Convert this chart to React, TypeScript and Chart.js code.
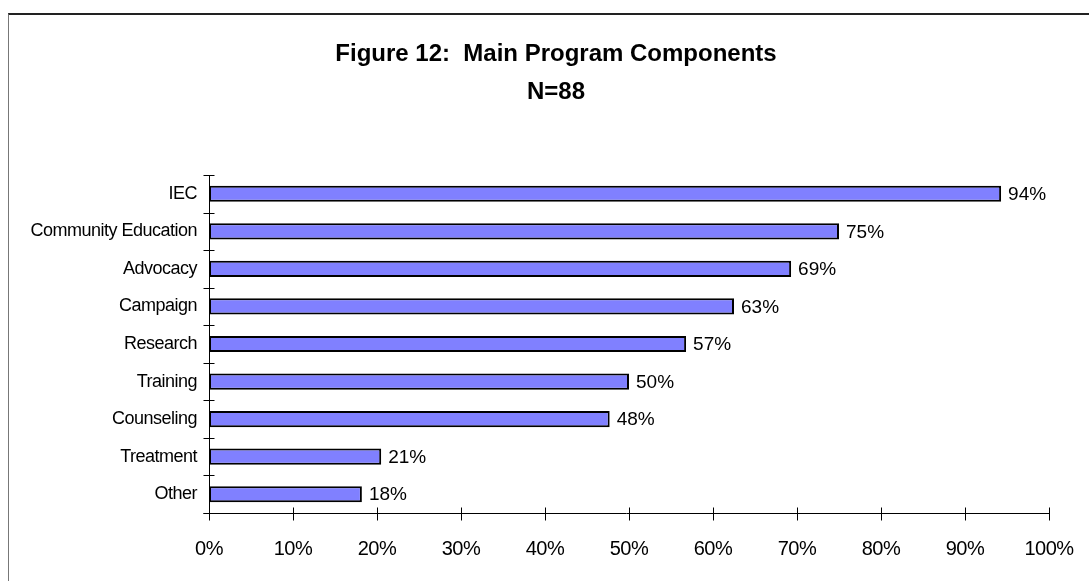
import React, { useEffect, useRef } from "react";
import { Chart, registerables } from "chart.js";

Chart.register(...registerables);

const categories = [
  "IEC",
  "Community Education",
  "Advocacy",
  "Campaign",
  "Research",
  "Training",
  "Counseling",
  "Treatment",
  "Other",
];
const values = [94.3, 75.0, 69.3, 62.5, 56.8, 50.0, 47.7, 20.5, 18.2];
const valueLabels = ["94%", "75%", "69%", "63%", "57%", "50%", "48%", "21%", "18%"];
const titleLines = ["Figure 12:  Main Program Components", "N=88"];
const xTickMax = 100;
const xTickStep = 10;

const FONT = "'Liberation Sans', Arial, Helvetica, sans-serif";

const spacingPlugin = {
  id: "spacing",
  beforeDraw(chart: any) {
    try {
      (chart.ctx as any).letterSpacing = "-0.5px";
    } catch (e) {}
  },
  beforeDatasetsDraw(chart: any) {
    try {
      (chart.ctx as any).letterSpacing = "0px";
    } catch (e) {}
  },
};

const titlePlugin = {
  id: "customTitle",
  afterDraw(chart: any) {
    const { ctx } = chart;
    ctx.save();
    ctx.fillStyle = "#000";
    ctx.font = `bold 24px ${FONT}`;
    ctx.textAlign = "center";
    ctx.textBaseline = "middle";
    ctx.fillText(titleLines[0], 556, 54);
    ctx.fillText(titleLines[1], 556, 92);
    ctx.restore();
  },
};

const axisPlugin = {
  id: "crossTicks",
  afterDraw(chart: any) {
    const { ctx, chartArea } = chart;
    const xs = chart.scales.x;
    const ys = chart.scales.y;
    ctx.save();
    ctx.strokeStyle = "#000";
    ctx.lineWidth = 1;
    ctx.beginPath();
    const lx = Math.round(chartArea.left) + 0.5;
    const by = Math.round(chartArea.bottom) + 0.5;
    ctx.moveTo(lx, Math.round(chartArea.top));
    ctx.lineTo(lx, by);
    ctx.moveTo(lx - 6, by);
    ctx.lineTo(Math.round(chartArea.right) + 0.5, by);
    for (const t of xs.ticks) {
      const px = Math.round(xs.getPixelForValue(t.value)) + 0.5;
      ctx.moveTo(px, by - 6);
      ctx.lineTo(px, by + 7);
    }
    const n = categories.length;
    for (let i = 0; i <= n; i++) {
      let py: number;
      if (i === 0) py = ys.top;
      else if (i === n) py = ys.bottom;
      else py = (ys.getPixelForValue(i - 1) + ys.getPixelForValue(i)) / 2;
      py = Math.round(py) + 0.5;
      ctx.moveTo(lx - 6, py);
      ctx.lineTo(lx + 5, py);
    }
    ctx.stroke();
    ctx.restore();
  },
};

const labelPlugin = {
  id: "valueLabels",
  afterDatasetsDraw(chart: any) {
    const { ctx } = chart;
    const meta = chart.getDatasetMeta(0);
    ctx.save();
    ctx.fillStyle = "#000";
    ctx.font = `19px ${FONT}`;
    ctx.textAlign = "left";
    ctx.textBaseline = "middle";
    meta.data.forEach((bar: any, i: number) => {
      ctx.fillText(valueLabels[i], bar.x + 7, bar.y + 1);
    });
    ctx.restore();
  },
};

export default function App() {
  const ref = useRef<HTMLCanvasElement | null>(null);

  useEffect(() => {
    if (!ref.current) return;
    const chart = new Chart(ref.current, {
      type: "bar",
      data: {
        labels: categories,
        datasets: [
          {
            data: values,
            backgroundColor: "#8080FF",
            borderColor: "#000",
            borderWidth: 2,
            borderSkipped: false,
            categoryPercentage: 1,
            barPercentage: 0.43,
          },
        ],
      },
      options: {
        indexAxis: "y",
        responsive: false,
        animation: false,
        layout: { padding: { top: 175, right: 40, left: 0, bottom: 0 } },
        plugins: {
          legend: { display: false },
          title: { display: false },
          tooltip: { enabled: false },
        },
        scales: {
          x: {
            min: 0,
            max: xTickMax,
            z: 1,
            grid: { display: false, drawTicks: false },
            border: { display: false },
            ticks: {
              stepSize: xTickStep,
              callback: (v: any) => `${v}%`,
              color: "#000",
              font: { family: FONT, size: 20 },
              padding: 24,
              maxRotation: 0,
            },
            afterFit: (s: any) => {
              s.height = 68;
              s.paddingLeft = 0;
              s.paddingRight = 0;
            },
          },
          y: {
            grid: { display: false, drawTicks: false },
            border: { display: false },
            ticks: {
              color: "#000",
              font: { family: FONT, size: 18 },
              padding: 12,
            },
            afterFit: (s: any) => {
              s.width = 209;
              s.paddingTop = 0;
              s.paddingBottom = 0;
            },
          },
        },
      },
      plugins: [spacingPlugin, titlePlugin, axisPlugin, labelPlugin],
    });
    return () => chart.destroy();
  }, []);

  return (
    <div
      style={{
        position: "fixed",
        left: 0,
        top: 0,
        width: 1089,
        height: 581,
        overflow: "hidden",
        background: "#fff",
      }}
    >
      <div
        style={{
          position: "absolute",
          left: 8,
          top: 13,
          width: 1200,
          height: 700,
          borderTop: "2px solid #222",
          borderLeft: "1px solid #777",
        }}
      />
      <canvas
        ref={ref}
        width={1089}
        height={581}
        style={{ position: "absolute", left: 0, top: 0 }}
      />
    </div>
  );
}
